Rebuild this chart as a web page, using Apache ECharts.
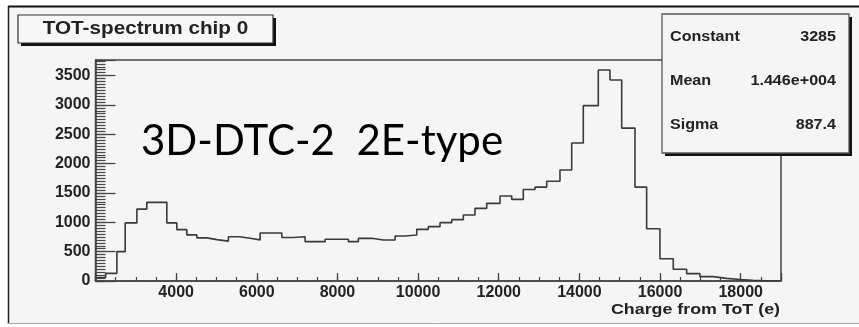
<!DOCTYPE html>
<html><head><meta charset="utf-8">
<script src="https://cdn.jsdelivr.net/npm/echarts@6/dist/echarts.min.js"></script>
<style>html,body{margin:0;padding:0;background:#fff}#c{width:859px;height:327px}</style>
</head><body><div id="c"></div>
<script>
// ---- data ----
const binEdges = [2000, 2252, 2530, 2736, 3026, 3273, 3521, 3769, 4017, 4265, 4513, 4761, 5009, 5296, 5569, 5834, 6082, 6350, 6620, 6908, 7198, 7446, 7694, 7984, 8271, 8519, 8851, 9139, 9429, 9677, 9967, 10254, 10544, 10834, 11122, 11412, 11702, 12032, 12322, 12609, 12900, 13190, 13519, 13809, 14097, 14469, 14759, 15049, 15379, 15668, 15998, 16328, 16660, 16990, 17320, 17650, 17982, 18304, 18626, 18960];
const binCounts = [60, 130, 500, 990, 1225, 1340, 1340, 990, 875, 785, 735, 705, 680, 755, 727, 700, 818, 818, 740, 755, 670, 670, 710, 712, 670, 727, 699, 699, 767, 784, 880, 926, 994, 1045, 1125, 1238, 1323, 1448, 1390, 1560, 1600, 1700, 1891, 2350, 2987, 3595, 3424, 2605, 1600, 890, 380, 200, 125, 74, 45, 25, 12, 5, 2];
const xTickLabels = [4000, 6000, 8000, 10000, 12000, 14000, 16000, 18000];
const yTickLabels = [0, 500, 1000, 1500, 2000, 2500, 3000, 3500];
const titleText = 'TOT-spectrum chip 0';
const statNames = ['Constant', 'Mean', 'Sigma'];
const statValues = ['3285', '1.446e+004', '887.4'];
const annotationText = '3D-DTC-2  2E-type';
const xAxisName = 'Charge from ToT (e)';

// ---- chart ----
const X_MIN = 2000, X_MAX = 19000, Y_MIN = 0, Y_MAX = 3765;
const stepPoints = binEdges.map((e, i) => [e, binCounts[Math.min(i, binCounts.length - 1)]]);
const ink = '#222';
const axisCol = '#444';
const labelFont = { fontFamily: 'Liberation Sans', fontWeight: 'bold', fontSize: 16, color: ink };

const chart = echarts.init(document.getElementById('c'), null, { renderer: 'canvas' });
const statGraphics = [];
statNames.forEach((n, i) => {
  const y = 37 + i * 44;
  statGraphics.push({ type: 'text', x: 670, y: y, scaleX: 1.15, z: 102,
    style: { text: n, font: 'bold 14px "Liberation Sans"', fill: ink, align: 'left', verticalAlign: 'middle' } });
  statGraphics.push({ type: 'text', x: 836, y: y, scaleX: 1.15, z: 102,
    style: { text: statValues[i], font: 'bold 14px "Liberation Sans"', fill: ink, align: 'right', verticalAlign: 'middle' } });
});

chart.setOption({
  backgroundColor: '#f5f5f5',
  animation: false,
  grid: { left: 95.5, right: 78, top: 60, bottom: 46, show: true, borderColor: axisCol, borderWidth: 1.5,
          backgroundColor: 'transparent', containLabel: false, outerBoundsMode: 'none' },
  xAxis: [
    { type: 'value', min: X_MIN, max: X_MAX, interval: 2000, position: 'bottom',
      axisLine: { show: true, lineStyle: { color: axisCol, width: 1.5 } },
      axisTick: { show: true, inside: true, length: 8, lineStyle: { color: axisCol, width: 1.3 } },
      axisLabel: { show: true, margin: 4, ...labelFont,
        formatter: v => (xTickLabels.indexOf(v) >= 0 ? String(v) : '') },
      splitLine: { show: false } },
    { type: 'value', min: X_MIN, max: X_MAX, interval: 500, position: 'bottom',
      axisLine: { show: false },
      axisTick: { show: true, inside: true, length: 4, lineStyle: { color: axisCol, width: 1.2 } },
      axisLabel: { show: false }, splitLine: { show: false } }
  ],
  yAxis: [
    { type: 'value', min: Y_MIN, max: Y_MAX, interval: 500, position: 'left',
      axisLine: { show: true, lineStyle: { color: axisCol, width: 1.5 } },
      axisTick: { show: true, inside: true, length: 20, lineStyle: { color: axisCol, width: 1.3 } },
      axisLabel: { show: true, margin: 5, ...labelFont,
        formatter: v => (yTickLabels.indexOf(v) >= 0 ? String(v) : '') },
      splitLine: { show: false } },
    { type: 'value', min: Y_MIN, max: Y_MAX, interval: 50, position: 'left',
      axisLine: { show: false },
      axisTick: { show: true, inside: true, length: 10, lineStyle: { color: axisCol, width: 1.2 } },
      axisLabel: { show: false }, splitLine: { show: false } }
  ],
  series: [{
    type: 'line', xAxisIndex: 0, yAxisIndex: 0, step: 'end', symbol: 'none',
    data: stepPoints, lineStyle: { color: '#3a3a3a', width: 1.6 }, z: 5
  }],
  graphic: [
    { type: 'rect', z: 100, shape: { x: 0, y: 0, width: 859, height: 6 }, style: { fill: '#fff' } },
    { type: 'rect', z: 100, shape: { x: 0, y: 0, width: 8, height: 327 }, style: { fill: '#fff' } },
    { type: 'rect', z: 100, shape: { x: 0, y: 324, width: 859, height: 3 }, style: { fill: '#fff' } },
    { type: 'line', z: 101, shape: { x1: 8, y1: 6.5, x2: 859, y2: 6.5 }, style: { stroke: '#111', lineWidth: 2 } },
    { type: 'line', z: 101, shape: { x1: 8.5, y1: 6, x2: 8.5, y2: 324 }, style: { stroke: '#222', lineWidth: 1.5 } },
    { type: 'line', z: 101, shape: { x1: 8, y1: 323.5, x2: 859, y2: 323.5 }, style: { stroke: '#aaa', lineWidth: 1 } },
    // title box
    { type: 'rect', z: 101, shape: { x: 21, y: 18, width: 255, height: 28 }, style: { fill: '#111' } },
    { type: 'rect', z: 101, shape: { x: 18, y: 15, width: 255, height: 28 }, style: { fill: '#f7f7f7', stroke: '#333', lineWidth: 1.2 } },
    { type: 'text', z: 102, x: 145.5, y: 29.5, scaleX: 1.15,
      style: { text: titleText, font: 'bold 18px "Liberation Sans"', fill: ink, align: 'center', verticalAlign: 'middle' } },
    // stats box
    { type: 'rect', z: 101, shape: { x: 665, y: 17, width: 187, height: 139 }, style: { fill: '#111' } },
    { type: 'rect', z: 101, shape: { x: 662, y: 14, width: 187, height: 139 }, style: { fill: '#f5f5f5', stroke: '#555', lineWidth: 1.3 } },
    ...statGraphics,
    // annotation
    { type: 'text', z: 102, x: 141, y: 141,
      style: { text: annotationText, font: '42px Lato', fill: '#000', align: 'left', verticalAlign: 'middle' } },
    // x axis name
    { type: 'text', z: 102, x: 780, y: 310, scaleX: 1.15,
      style: { text: xAxisName, font: 'bold 15.5px "Liberation Sans"', fill: ink, align: 'right', verticalAlign: 'middle' } }
  ]
});
</script>
</body></html>
